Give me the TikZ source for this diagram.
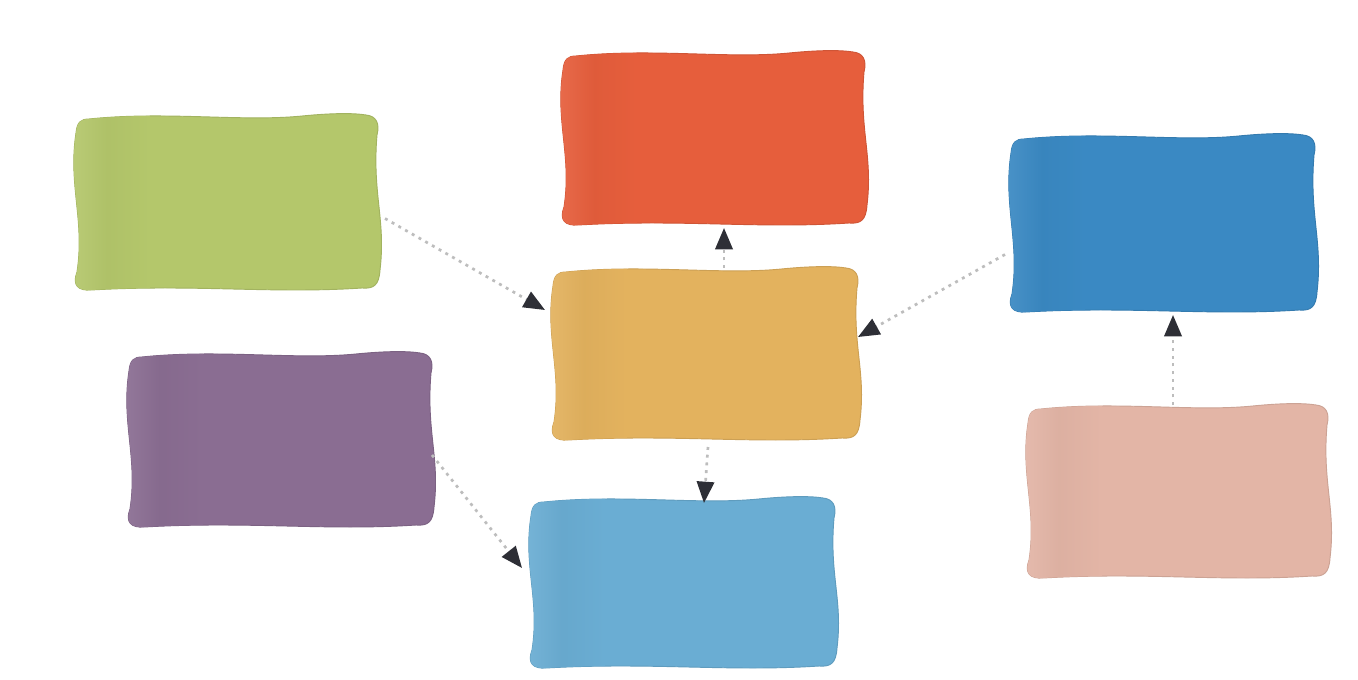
\documentclass[tikz,border=0pt]{standalone}
\usetikzlibrary{arrows.meta,calc}
\definecolor{cgreen}{HTML}{B4C76B}
\definecolor{cred}{HTML}{E65E3C}
\definecolor{cyellow}{HTML}{E3B25E}
\definecolor{cdblue}{HTML}{3A89C3}
\definecolor{cpurple}{HTML}{8A6D92}
\definecolor{clblue}{HTML}{6AADD3}
\definecolor{cpink}{HTML}{E3B5A6}
\definecolor{cdot}{HTML}{BDBDBD}
\definecolor{ctip}{HTML}{2E2F36}
\tikzset{
  conn/.style={draw=cdot, line width=2pt, dash pattern=on 2.2pt off 3.6pt,
    -{Triangle[length=16pt,width=13pt,color=ctip]}},
  anchorbox/.style={inner sep=0pt, outer sep=0pt, draw=none}
}
\newcommand{\wpath}{%
 ({\xa+14},{\ya+4})
 .. controls ({\xa+0.3*\w},{\ya-4}) and ({\xa+0.55*\w},{\ya+7}) .. ({\xa+0.75*\w},{\ya+1})
 .. controls ({\xa+0.85*\w},{\ya-2}) and ({\xb-24},{\ya-2}) .. ({\xb-12},{\ya})
 .. controls ({\xb-2},{\ya+1}) and ({\xb+2},{\ya+8}) .. ({\xb-1},{\ya+20})
 .. controls ({\xb-6},{\ya+0.45*\h}) and ({\xb+8},{\ya+0.6*\h}) .. ({\xb+2},{\yb-20})
 .. controls ({\xb+1},{\yb-5}) and ({\xb-4},{\yb-1}) .. ({\xb-16},{\yb-2})
 .. controls ({\xa+0.65*\w},{\yb+4}) and ({\xa+0.4*\w},{\yb-6}) .. ({\xa+16},{\yb})
 .. controls ({\xa+3},{\yb+1}) and ({\xa-3},{\yb-5}) .. ({\xa+2},{\yb-18})
 .. controls ({\xa+10},{\ya+0.6*\h}) and ({\xa-7},{\ya+0.4*\h}) .. ({\xa+1},{\ya+18})
 .. controls ({\xa+2},{\ya+7}) and ({\xa+6},{\ya+4}) .. cycle}
\newcommand{\wbox}[6]{%
 \pgfmathsetmacro\xa{#2}\pgfmathsetmacro\ya{#3}%
 \pgfmathsetmacro\xb{#4}\pgfmathsetmacro\yb{#5}%
 \pgfmathsetmacro\w{\xb-\xa}\pgfmathsetmacro\h{\yb-\ya}%
 \pgfmathsetmacro\wpt{\w*0.75}\pgfmathsetmacro\hpt{\h*0.75}%
 \fill[#6, draw=#6!90!black, line width=0.7pt] \wpath;
 \begin{scope}
  \clip \wpath;
  \shade[left color=#6!92!white, right color=#6!97!black] ({\xa-5},{\ya-5}) rectangle ({\xa+32},{\yb+5});
  \shade[left color=#6!97!black, right color=#6] ({\xa+32},{\ya-5}) rectangle ({\xa+75},{\yb+5});
 \end{scope}
 \node[anchorbox, minimum width=\wpt pt, minimum height=\hpt pt] (#1) at ({(\xa+\xb)/2},{(\ya+\yb)/2}) {};
}
\begin{document}
\begin{tikzpicture}[x=0.75pt,y=-0.75pt]
\fill[white] (0,0) rectangle (1358,680);
\useasboundingbox (0,0) rectangle (1358,680);
\wbox{green}{75}{115}{378}{290}{cgreen}
\wbox{red}{562}{52}{865}{225}{cred}
\wbox{yellow}{552}{268}{858}{440}{cyellow}
\wbox{dblue}{1010}{135}{1315}{312}{cdblue}
\wbox{purple}{128}{353}{432}{527}{cpurple}
\wbox{lblue}{530}{498}{835}{668}{clblue}
\wbox{pink}{1027}{405}{1328}{578}{cpink}
\draw[conn] ([shift={(7,16)}]green.east) -- ([shift={(-7,-44)}]yellow.west);
\draw[conn] ([shift={(19,0)}]yellow.north) -- ([shift={(10.5,3)}]red.south);
\draw[conn] ([shift={(-5,31)}]dblue.west) -- ([shift={(0,-17)}]yellow.east);
\draw[conn] ([shift={(0,15)}]purple.east) -- ([shift={(-8,-15)}]lblue.west);
\draw[conn] ([shift={(3,7)}]yellow.south) -- ([shift={(21.5,5)}]lblue.north);
\draw[conn] ([shift={(-4.5,0)}]pink.north) -- ([shift={(10.5,3)}]dblue.south);
\end{tikzpicture}
\end{document}
